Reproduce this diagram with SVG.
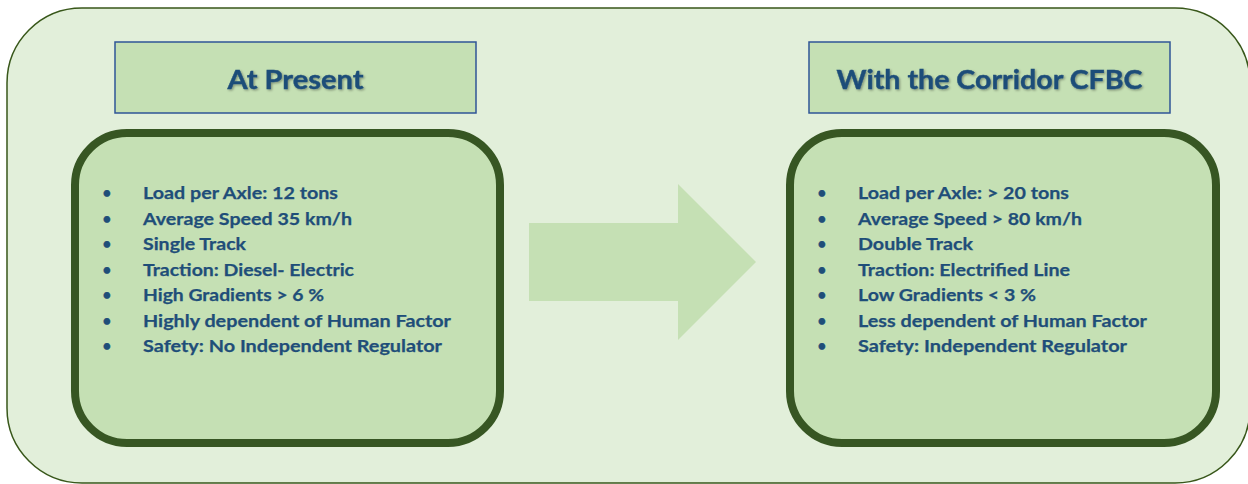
<svg xmlns="http://www.w3.org/2000/svg" width="1248" height="484" viewBox="0 0 1248 484">
<style>
.bg{fill:#e2efda;stroke:#38571a;stroke-width:1.5}
.hdr{fill:#c5e0b4;stroke:#2f5597;stroke-width:1.5}
.box{fill:#c5e0b4;stroke:#375623;stroke-width:8}
.arrow{fill:#c5e0b4}
.t{font-family:Lato,"Liberation Sans",sans-serif;font-weight:bold;fill:#1f4e79;stroke:#1f4e79;stroke-width:0.25}
.h{font-size:26.5px;text-anchor:middle;stroke-width:0.4}
.li{font-size:17.8px}
.b{font-size:15px}
</style>
<defs>
<filter id="sh" x="-10%" y="-30%" width="120%" height="160%">
<feDropShadow dx="1.2" dy="1.2" stdDeviation="0.8" flood-color="#000" flood-opacity="0.35"/>
</filter>
</defs>
<rect class="bg" x="7" y="8" width="1243" height="475" rx="75" ry="75"/>
<g id="connectors">
<path class="arrow" d="M529 223 H678 V184 L756 262 L678 340 V301 H529 Z"/>
</g>
<g id="header-present">
<rect class="hdr" x="115" y="42" width="361" height="71"/>
<text class="t h" x="295.5" y="89" filter="url(#sh)" textLength="136" lengthAdjust="spacingAndGlyphs">At Present</text>
</g>
<g id="header-corridor">
<rect class="hdr" x="809" y="42" width="361" height="71"/>
<text class="t h" x="989.5" y="89" filter="url(#sh)" textLength="306" lengthAdjust="spacingAndGlyphs">With the Corridor CFBC</text>
</g>
<g id="box-present">
<rect class="box" x="75" y="133" width="425" height="310" rx="52" ry="52"/>
<g class="t b">
<text x="102.5" y="198">•</text><text x="102.5" y="223.5">•</text><text x="102.5" y="249">•</text><text x="102.5" y="274.5">•</text><text x="102.5" y="300">•</text><text x="102.5" y="325.5">•</text><text x="102.5" y="351">•</text>
</g>
<g class="t li">
<text x="143" y="199" textLength="195" lengthAdjust="spacingAndGlyphs">Load per Axle: 12 tons</text>
<text x="143" y="224.5" textLength="209" lengthAdjust="spacingAndGlyphs">Average Speed 35 km/h</text>
<text x="143" y="250" textLength="103" lengthAdjust="spacingAndGlyphs">Single Track</text>
<text x="143" y="275.5" textLength="211" lengthAdjust="spacingAndGlyphs">Traction: Diesel- Electric</text>
<text x="143" y="301" textLength="181" lengthAdjust="spacingAndGlyphs">High Gradients &gt; 6 %</text>
<text x="143" y="326.5" textLength="308" lengthAdjust="spacingAndGlyphs">Highly dependent of Human Factor</text>
<text x="143" y="352" textLength="299" lengthAdjust="spacingAndGlyphs">Safety: No Independent Regulator</text>
</g>
</g>
<g id="box-corridor">
<rect class="box" x="790" y="133" width="426" height="310" rx="52" ry="52"/>
<g class="t b">
<text x="817.5" y="198">•</text><text x="817.5" y="223.5">•</text><text x="817.5" y="249">•</text><text x="817.5" y="274.5">•</text><text x="817.5" y="300">•</text><text x="817.5" y="325.5">•</text><text x="817.5" y="351">•</text>
</g>
<g class="t li">
<text x="858" y="199" textLength="211" lengthAdjust="spacingAndGlyphs">Load per Axle: &gt; 20 tons</text>
<text x="858" y="224.5" textLength="224" lengthAdjust="spacingAndGlyphs">Average Speed &gt; 80 km/h</text>
<text x="858" y="250" textLength="115" lengthAdjust="spacingAndGlyphs">Double Track</text>
<text x="858" y="275.5" textLength="212" lengthAdjust="spacingAndGlyphs">Traction: Electrified Line</text>
<text x="858" y="301" textLength="178" lengthAdjust="spacingAndGlyphs">Low Gradients &lt; 3 %</text>
<text x="858" y="326.5" textLength="289" lengthAdjust="spacingAndGlyphs">Less dependent of Human Factor</text>
<text x="858" y="352" textLength="269" lengthAdjust="spacingAndGlyphs">Safety: Independent Regulator</text>
</g>
</g>
</svg>
